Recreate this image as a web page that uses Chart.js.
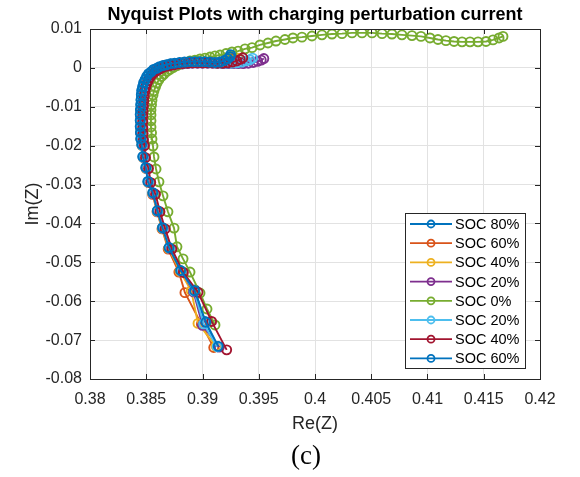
<!DOCTYPE html>
<html>
<head>
<meta charset="utf-8">
<script src="https://cdn.jsdelivr.net/npm/chart.js@4.4.1/dist/chart.umd.min.js"></script>
<style>
  body { margin: 0; background: #fff; }
  #wrap { width: 580px; height: 477px; }
</style>
</head>
<body>
<div id="wrap"><canvas id="nyquist" width="580" height="477"></canvas></div>
<script>
// series labels, in plotting order
const seriesNames = ['SOC 80%', 'SOC 60%', 'SOC 40%', 'SOC 20%', 'SOC 0%', 'SOC 20%', 'SOC 40%', 'SOC 60%'];
const seriesColors = ['#0072BD', '#D95319', '#EDB120', '#7E2F8E', '#77AC30', '#4DBEEE', '#A2142F', '#0072BD'];

// Re(Z) / Im(Z) (low frequency end first)
const re80a = [0.39135,0.39022,0.38933,0.38809,0.38705,0.38646,0.38600,0.38560,0.38516,0.38498,0.38471,0.38462,0.38453,0.38451,0.38449,0.38449,0.38449,0.38451,0.38453,0.38455,0.38458,0.38462,0.38471,0.38480,0.38493,0.38507,0.38524,0.38547,0.38569,0.38596,0.38622,0.38653,0.38684,0.38720,0.38756,0.38800,0.38844,0.38889,0.38933,0.38978,0.39022,0.39067,0.39111,0.39156,0.39191,0.39218,0.39236];
const im80a = [-0.0717,-0.0652,-0.0571,-0.0522,-0.0463,-0.0412,-0.0368,-0.0322,-0.0293,-0.0257,-0.0229,-0.0198,-0.0183,-0.0167,-0.0152,-0.0136,-0.0121,-0.0108,-0.0095,-0.0083,-0.0070,-0.0059,-0.0049,-0.0039,-0.0031,-0.0023,-0.0016,-0.0011,-0.0005,-0.0002,0.0002,0.0005,0.0007,0.0010,0.0011,0.0013,0.0014,0.0015,0.0015,0.0015,0.0015,0.0014,0.0013,0.0014,0.0018,0.0023,0.0027];

const re60a = [0.39100,0.38990,0.38844,0.38790,0.38695,0.38640,0.38596,0.38556,0.38520,0.38500,0.38476,0.38465,0.38456,0.38453,0.38451,0.38451,0.38451,0.38453,0.38456,0.38458,0.38462,0.38467,0.38476,0.38487,0.38500,0.38516,0.38533,0.38556,0.38580,0.38607,0.38636,0.38667,0.38700,0.38736,0.38773,0.38816,0.38860,0.38904,0.38949,0.38993,0.39038,0.39082,0.39127,0.39170,0.39210,0.39245,0.39275];
const im60a = [-0.0719,-0.0659,-0.0578,-0.0525,-0.0466,-0.0414,-0.0370,-0.0325,-0.0295,-0.0259,-0.0231,-0.0200,-0.0185,-0.0169,-0.0154,-0.0138,-0.0123,-0.0110,-0.0097,-0.0085,-0.0072,-0.0061,-0.0051,-0.0041,-0.0033,-0.0025,-0.0018,-0.0012,-0.0007,-0.0003,0.0001,0.0004,0.0006,0.0009,0.0010,0.0012,0.0013,0.0014,0.0014,0.0014,0.0014,0.0013,0.0012,0.0013,0.0016,0.0020,0.0024];

const re40a = [0.39120,0.38960,0.38900,0.38800,0.38700,0.38643,0.38598,0.38558,0.38518,0.38499,0.38473,0.38463,0.38455,0.38452,0.38450,0.38450,0.38450,0.38452,0.38455,0.38457,0.38461,0.38466,0.38475,0.38485,0.38498,0.38513,0.38530,0.38552,0.38576,0.38603,0.38631,0.38662,0.38694,0.38730,0.38767,0.38810,0.38855,0.38900,0.38945,0.38990,0.39035,0.39080,0.39125,0.39170,0.39215,0.39260,0.39295,0.39315];
const im40a = [-0.0716,-0.0657,-0.0573,-0.0523,-0.0464,-0.0413,-0.0369,-0.0323,-0.0294,-0.0258,-0.0230,-0.0199,-0.0184,-0.0168,-0.0153,-0.0137,-0.0122,-0.0109,-0.0096,-0.0084,-0.0071,-0.0060,-0.0050,-0.0040,-0.0032,-0.0024,-0.0017,-0.0011,-0.0006,-0.0002,0.0002,0.0005,0.0007,0.0009,0.0011,0.0012,0.0013,0.0014,0.0014,0.0014,0.0014,0.0014,0.0013,0.0013,0.0014,0.0017,0.0021,0.0025];

const re20a = [0.39150,0.39000,0.38920,0.38815,0.38712,0.38650,0.38603,0.38562,0.38522,0.38502,0.38476,0.38466,0.38457,0.38454,0.38452,0.38452,0.38452,0.38454,0.38457,0.38460,0.38464,0.38469,0.38478,0.38489,0.38502,0.38518,0.38536,0.38558,0.38583,0.38611,0.38640,0.38672,0.38705,0.38741,0.38779,0.38822,0.38867,0.38912,0.38957,0.39002,0.39047,0.39092,0.39137,0.39182,0.39227,0.39272,0.39317,0.39362,0.39407,0.39450,0.39490,0.39522,0.39545];
const im20a = [-0.0718,-0.0662,-0.0576,-0.0524,-0.0465,-0.0413,-0.0369,-0.0324,-0.0294,-0.0258,-0.0230,-0.0199,-0.0184,-0.0168,-0.0153,-0.0137,-0.0122,-0.0109,-0.0096,-0.0084,-0.0072,-0.0061,-0.0051,-0.0042,-0.0034,-0.0026,-0.0019,-0.0013,-0.0008,-0.0004,0.0000,0.0003,0.0005,0.0007,0.0009,0.0010,0.0011,0.0012,0.0012,0.0012,0.0012,0.0012,0.0012,0.0011,0.0011,0.0011,0.0011,0.0011,0.0012,0.0014,0.0017,0.0020,0.0024];

const re0 = [0.39111,0.39040,0.38978,0.38889,0.38827,0.38773,0.38747,0.38693,0.38649,0.38613,0.38587,0.38569,0.38560,0.38551,0.38547,0.38542,0.38542,0.38542,0.38542,0.38547,0.38551,0.38560,0.38569,0.38582,0.38596,0.38613,0.38636,0.38658,0.38684,0.38711,0.38742,0.38773,0.38809,0.38844,0.38889,0.38933,0.38978,0.39022,0.39067,0.39111,0.39156,0.39209,0.39262,0.39316,0.39378,0.39440,0.39511,0.39582,0.39653,0.39733,0.39804,0.39884,0.39973,0.40062,0.40151,0.40240,0.40329,0.40418,0.40507,0.40596,0.40684,0.40773,0.40862,0.40942,0.41022,0.41093,0.41164,0.41236,0.41307,0.41378,0.41449,0.41520,0.41582,0.41636,0.41671];
const im0 = [-0.0661,-0.0620,-0.0579,-0.0525,-0.0491,-0.0460,-0.0412,-0.0370,-0.0329,-0.0293,-0.0260,-0.0229,-0.0201,-0.0183,-0.0167,-0.0152,-0.0136,-0.0121,-0.0108,-0.0095,-0.0083,-0.0070,-0.0059,-0.0049,-0.0039,-0.0030,-0.0022,-0.0016,-0.0009,-0.0004,0.0001,0.0006,0.0010,0.0014,0.0018,0.0020,0.0023,0.0025,0.0028,0.0031,0.0033,0.0037,0.0041,0.0043,0.0049,0.0052,0.0059,0.0064,0.0069,0.0073,0.0077,0.0079,0.0082,0.0085,0.0087,0.0088,0.0090,0.0090,0.0090,0.0088,0.0087,0.0085,0.0083,0.0081,0.0077,0.0073,0.0070,0.0068,0.0067,0.0067,0.0067,0.0068,0.0072,0.0077,0.0081];

const re20b = [0.39130,0.39010,0.38925,0.38812,0.38708,0.38648,0.38601,0.38560,0.38520,0.38500,0.38474,0.38464,0.38455,0.38452,0.38450,0.38450,0.38450,0.38452,0.38455,0.38458,0.38462,0.38467,0.38476,0.38486,0.38499,0.38514,0.38532,0.38554,0.38578,0.38605,0.38634,0.38665,0.38698,0.38734,0.38771,0.38814,0.38858,0.38902,0.38947,0.38992,0.39037,0.39082,0.39127,0.39172,0.39217,0.39262,0.39307,0.39350,0.39390,0.39422,0.39445];
const im20b = [-0.0717,-0.0658,-0.0574,-0.0523,-0.0464,-0.0413,-0.0369,-0.0323,-0.0294,-0.0258,-0.0230,-0.0199,-0.0184,-0.0168,-0.0153,-0.0137,-0.0122,-0.0109,-0.0096,-0.0084,-0.0071,-0.0060,-0.0050,-0.0041,-0.0033,-0.0025,-0.0018,-0.0012,-0.0007,-0.0003,0.0001,0.0004,0.0006,0.0008,0.0010,0.0011,0.0012,0.0013,0.0013,0.0013,0.0013,0.0013,0.0012,0.0012,0.0012,0.0012,0.0013,0.0015,0.0018,0.0021,0.0025];

const re40b = [0.39215,0.39081,0.38960,0.38830,0.38728,0.38668,0.38622,0.38582,0.38540,0.38520,0.38493,0.38484,0.38475,0.38472,0.38470,0.38470,0.38470,0.38472,0.38475,0.38478,0.38482,0.38487,0.38495,0.38505,0.38517,0.38532,0.38549,0.38570,0.38593,0.38619,0.38647,0.38677,0.38709,0.38744,0.38780,0.38822,0.38865,0.38909,0.38953,0.38998,0.39043,0.39088,0.39133,0.39178,0.39223,0.39265,0.39305,0.39335,0.39358];
const im40b = [-0.0725,-0.0652,-0.0577,-0.0526,-0.0466,-0.0414,-0.0370,-0.0325,-0.0295,-0.0259,-0.0231,-0.0200,-0.0185,-0.0169,-0.0154,-0.0138,-0.0123,-0.0110,-0.0097,-0.0085,-0.0072,-0.0061,-0.0051,-0.0041,-0.0033,-0.0025,-0.0018,-0.0012,-0.0007,-0.0003,0.0001,0.0004,0.0006,0.0008,0.0010,0.0011,0.0012,0.0013,0.0013,0.0013,0.0013,0.0013,0.0012,0.0012,0.0013,0.0015,0.0018,0.0022,0.0026];

const re60b = [0.39140,0.39030,0.38930,0.38805,0.38702,0.38644,0.38598,0.38558,0.38514,0.38496,0.38469,0.38460,0.38451,0.38448,0.38446,0.38446,0.38446,0.38448,0.38451,0.38453,0.38456,0.38460,0.38468,0.38477,0.38490,0.38504,0.38521,0.38543,0.38565,0.38592,0.38618,0.38649,0.38680,0.38716,0.38752,0.38796,0.38840,0.38885,0.38930,0.38975,0.39020,0.39065,0.39110,0.39155,0.39195,0.39225,0.39245,0.39250];
const im60b = [-0.0716,-0.0654,-0.0573,-0.0521,-0.0462,-0.0411,-0.0367,-0.0321,-0.0292,-0.0256,-0.0228,-0.0197,-0.0182,-0.0166,-0.0151,-0.0135,-0.0120,-0.0107,-0.0094,-0.0082,-0.0069,-0.0058,-0.0048,-0.0038,-0.0030,-0.0022,-0.0015,-0.0010,-0.0004,-0.0001,0.0003,0.0006,0.0008,0.0011,0.0012,0.0014,0.0015,0.0016,0.0016,0.0016,0.0016,0.0015,0.0014,0.0015,0.0019,0.0024,0.0029,0.0034];

const reSeries = [re80a, re60a, re40a, re20a, re0, re20b, re40b, re60b];
const imSeries = [im80a, im60a, im40a, im20a, im0, im20b, im40b, im60b];

// axis ranges / ticks
const xMin = 0.38, xMax = 0.42, xStep = 0.005;
const yMin = -0.08, yMax = 0.01, yStep = 0.01;

const FONT = "'Liberation Sans', Arial, Helvetica, sans-serif";
const AXIS_COLOR = '#262626';

// box, inward ticks, legend and "(c)" caption (matlab look)
const matlabFrame = {
  id: 'matlabFrame',
  afterDraw(chart) {
    const { ctx, chartArea: a, scales } = chart;
    ctx.save();
    ctx.strokeStyle = AXIS_COLOR;
    ctx.lineWidth = 1;
    ctx.beginPath();
    scales.x.ticks.forEach(t => {
      const px = Math.round(scales.x.getPixelForValue(t.value)) + 0.5;
      ctx.moveTo(px, a.bottom); ctx.lineTo(px, a.bottom - 5);
      ctx.moveTo(px, a.top); ctx.lineTo(px, a.top + 5);
    });
    scales.y.ticks.forEach(t => {
      const py = Math.round(scales.y.getPixelForValue(t.value)) + 0.5;
      ctx.moveTo(a.left, py); ctx.lineTo(a.left + 5, py);
      ctx.moveTo(a.right, py); ctx.lineTo(a.right - 5, py);
    });
    ctx.stroke();
    ctx.strokeRect(Math.round(a.left) + 0.5, Math.round(a.top) + 0.5,
      Math.round(a.right - a.left), Math.round(a.bottom - a.top));

    // legend
    const lx = 405, ly = 213, lw = 120, lh = 155;
    ctx.fillStyle = '#fff';
    ctx.fillRect(lx, ly, lw, lh);
    ctx.strokeStyle = AXIS_COLOR;
    ctx.strokeRect(lx + 0.5, ly + 0.5, lw, lh);
    ctx.font = '14.5px ' + FONT;
    ctx.textBaseline = 'middle';
    chart.data.datasets.forEach((ds, i) => {
      const y = ly + 11 + i * 19.2;
      ctx.strokeStyle = ds.borderColor;
      ctx.lineWidth = 1.8;
      ctx.beginPath();
      ctx.moveTo(410, y); ctx.lineTo(452, y);
      ctx.stroke();
      ctx.beginPath();
      ctx.arc(431, y, 3.5, 0, Math.PI * 2);
      ctx.stroke();
      ctx.fillStyle = '#000';
      ctx.fillText(ds.label, 455, y + 1);
    });

    // caption
    ctx.fillStyle = '#000';
    ctx.font = "27px 'Liberation Serif', 'Times New Roman', serif";
    ctx.textAlign = 'center';
    ctx.fillText('(c)', 306, 457);
    ctx.restore();
  }
};

const datasets = seriesNames.map((name, i) => ({
  label: name,
  data: reSeries[i].map((re, k) => ({ x: re, y: imSeries[i][k] })),
  borderColor: seriesColors[i],
  pointBorderColor: seriesColors[i],
  pointBackgroundColor: 'rgba(0,0,0,0)',
  pointRadius: 4.5,
  pointBorderWidth: 1.9,
  borderWidth: 1.9,
  showLine: true,
  tension: 0,
  order: seriesNames.length - i
}));

new Chart(document.getElementById('nyquist'), {
  type: 'scatter',
  data: { datasets },
  options: {
    responsive: false,
    animation: false,
    events: [],
    layout: { padding: { left: 0, right: 40, top: 0, bottom: 0 } },
    plugins: {
      legend: { display: false },
      tooltip: { enabled: false },
      title: {
        display: true,
        fullSize: false,
        text: 'Nyquist Plots with charging perturbation current',
        color: '#000',
        font: { family: FONT, size: 18, weight: 'bold' },
        padding: { top: 4, bottom: 3.4 }
      }
    },
    scales: {
      x: {
        type: 'linear',
        min: xMin, max: xMax,
        afterFit: s => { s.height = 98; },
        border: { display: false },
        grid: { color: '#e2e2e2', drawTicks: false },
        ticks: {
          stepSize: xStep,
          padding: 11,
          color: AXIS_COLOR,
          font: { family: FONT, size: 16 },
          maxRotation: 0,
          callback: v => String(+v.toFixed(3))
        },
        title: {
          display: true, text: 'Re(Z)', color: AXIS_COLOR,
          font: { family: FONT, size: 18 },
          padding: { bottom: 42 }
        }
      },
      y: {
        type: 'linear',
        min: yMin, max: yMax,
        afterFit: s => { s.width = 90; },
        border: { display: false },
        grid: { color: '#e2e2e2', drawTicks: false },
        ticks: {
          stepSize: yStep,
          padding: 8,
          color: AXIS_COLOR,
          font: { family: FONT, size: 16 },
          callback: v => String(+v.toFixed(3))
        },
        title: {
          display: true, text: 'Im(Z)', color: AXIS_COLOR,
          font: { family: FONT, size: 18 },
          padding: { top: 22 }
        }
      }
    }
  },
  plugins: [matlabFrame]
});
</script>
</body>
</html>
